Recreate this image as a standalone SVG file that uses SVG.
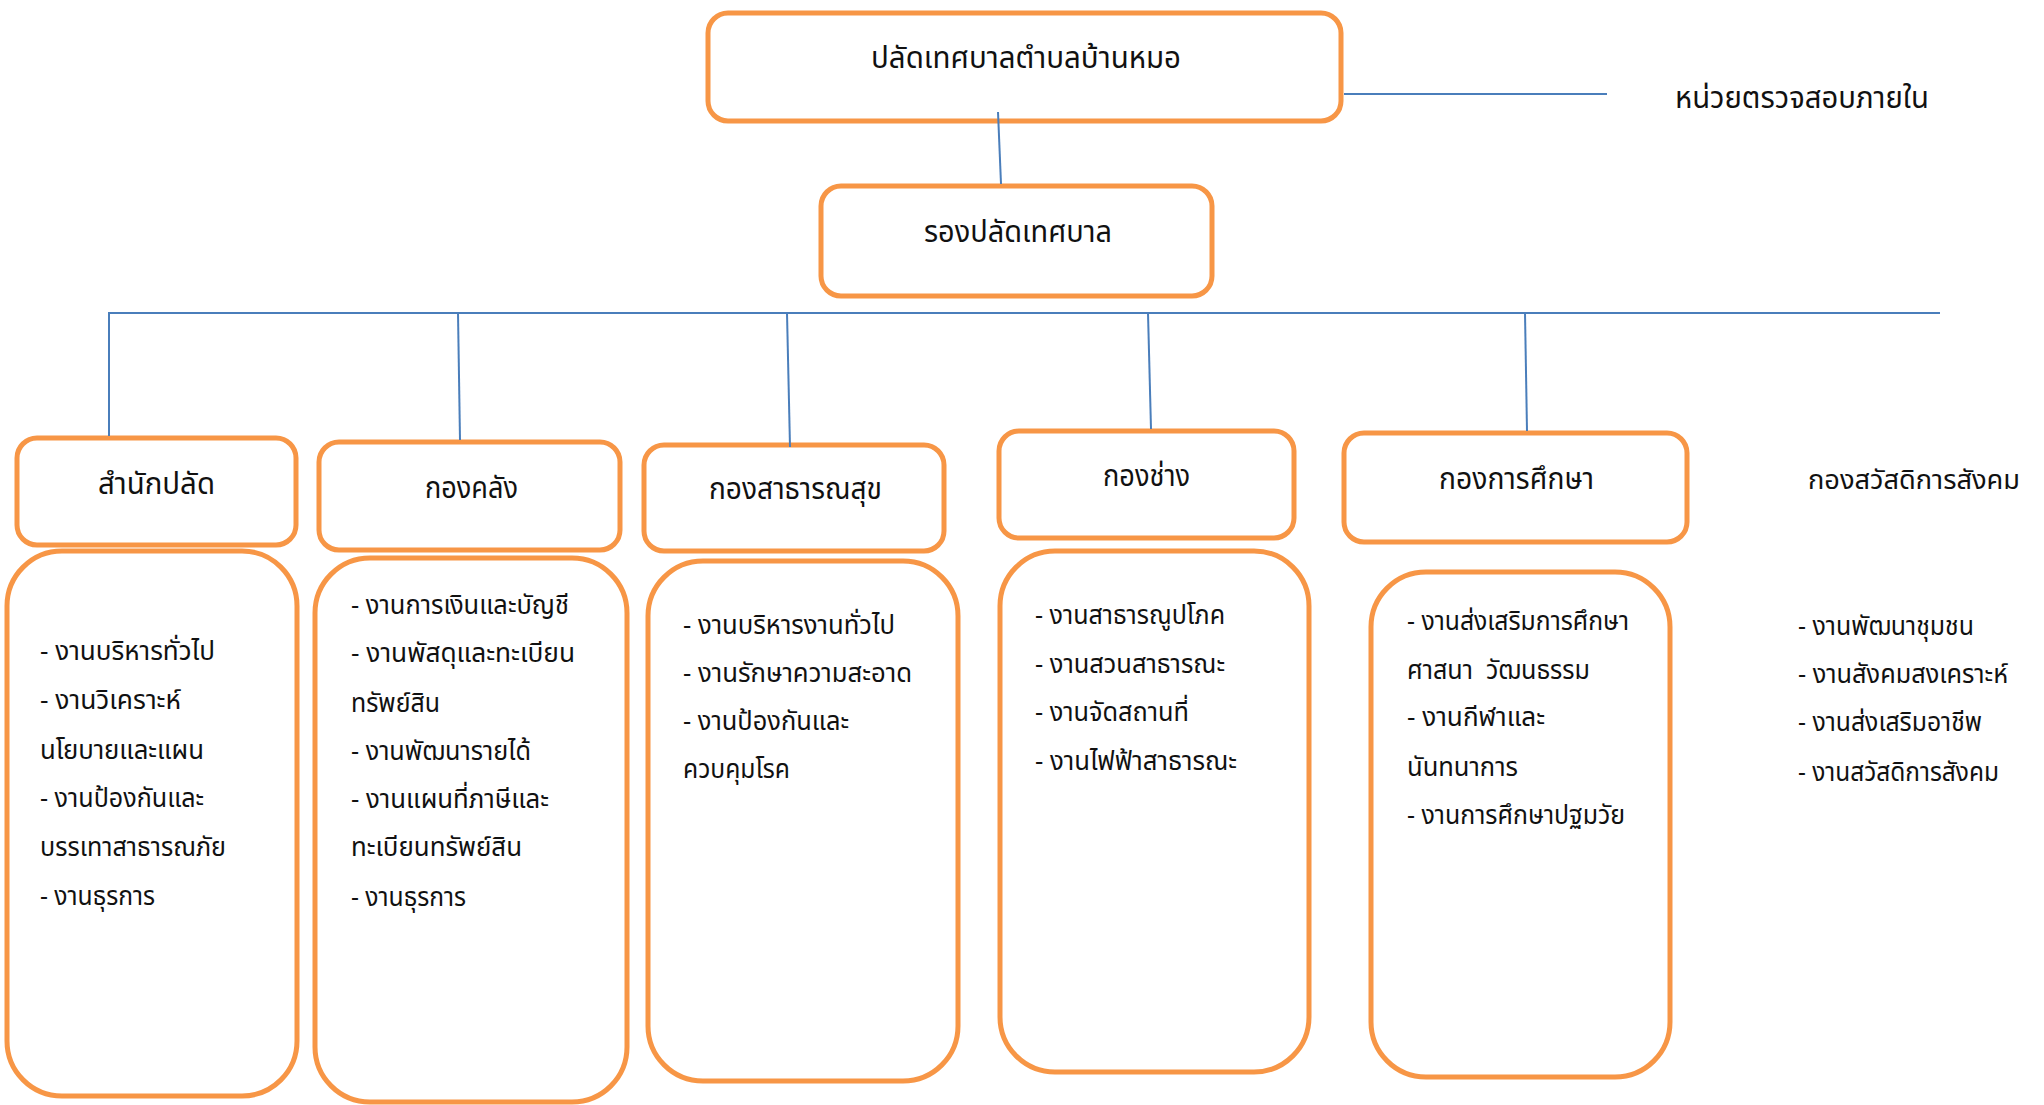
<svg xmlns="http://www.w3.org/2000/svg" width="2044" height="1105" viewBox="0 0 2044 1105">
<style>
.box{fill:#fff;stroke:#F79646;stroke-width:5}
.ln{stroke:#4A7EBB;stroke-width:2;fill:none}
text{font-family:"Noto Sans Thai","Noto Sans","Lato",sans-serif;fill:#111}
.h{font-size:31px}
.t{font-size:26px}
</style>
<rect width="2044" height="1105" fill="#fff"/>
<g id="n-top"><rect class="box" x="708" y="13" width="633" height="108" rx="20"/><text class="h" x="871" y="68" textLength="310" lengthAdjust="spacingAndGlyphs">ปลัดเทศบาลตำบลบ้านหมอ</text></g>
<g id="n-deputy"><rect class="box" x="821" y="186" width="391" height="110" rx="20"/><text class="h" x="924" y="242" textLength="188" lengthAdjust="spacingAndGlyphs">รองปลัดเทศบาล</text></g>
<g id="n-audit"><text class="h" x="1675" y="108" textLength="254" lengthAdjust="spacingAndGlyphs">หน่วยตรวจสอบภายใน</text></g>

<g id="n-d1"><rect class="box" x="17" y="438" width="279" height="107" rx="20"/><text class="h" x="98" y="494" textLength="117" lengthAdjust="spacingAndGlyphs">สำนักปลัด</text></g>
<g id="n-d2"><rect class="box" x="319" y="442" width="301" height="108" rx="20"/><text class="h" x="425" y="498" textLength="93" lengthAdjust="spacingAndGlyphs">กองคลัง</text></g>
<g id="n-d3"><rect class="box" x="644" y="445" width="300" height="106" rx="20"/><text class="h" x="709" y="499" textLength="173" lengthAdjust="spacingAndGlyphs">กองสาธารณสุข</text></g>
<g id="n-d4"><rect class="box" x="999" y="431" width="295" height="107" rx="20"/><text class="h" x="1103" y="486" textLength="87" lengthAdjust="spacingAndGlyphs">กองช่าง</text></g>
<g id="n-d5"><rect class="box" x="1344" y="433" width="343" height="109" rx="20"/><text class="h" x="1439" y="489" textLength="155" lengthAdjust="spacingAndGlyphs">กองการศึกษา</text></g>
<g id="n-d6"><text x="1808" y="489" font-size="27" textLength="212" lengthAdjust="spacingAndGlyphs">กองสวัสดิการสังคม</text></g>

<g id="n-l1"><rect class="box" x="7" y="551" width="290" height="545" rx="55"/>
<text class="t" x="40" y="660" textLength="175" lengthAdjust="spacingAndGlyphs">- งานบริหารทั่วไป</text>
<text class="t" x="40" y="709" textLength="141" lengthAdjust="spacingAndGlyphs">- งานวิเคราะห์</text>
<text class="t" x="40" y="759" textLength="164" lengthAdjust="spacingAndGlyphs">นโยบายและแผน</text>
<text class="t" x="40" y="807" textLength="164" lengthAdjust="spacingAndGlyphs">- งานป้องกันและ</text>
<text class="t" x="40" y="856" textLength="186" lengthAdjust="spacingAndGlyphs">บรรเทาสาธารณภัย</text>
<text class="t" x="40" y="905" textLength="115" lengthAdjust="spacingAndGlyphs">- งานธุรการ</text>
</g>
<g id="n-l2"><rect class="box" x="315" y="558" width="312" height="544" rx="55"/>
<text class="t" x="351" y="614" textLength="218" lengthAdjust="spacingAndGlyphs">- งานการเงินและบัญชี</text>
<text class="t" x="351" y="662" textLength="224" lengthAdjust="spacingAndGlyphs">- งานพัสดุและทะเบียน</text>
<text class="t" x="351" y="712" textLength="89" lengthAdjust="spacingAndGlyphs">ทรัพย์สิน</text>
<text class="t" x="351" y="760" textLength="180" lengthAdjust="spacingAndGlyphs">- งานพัฒนารายได้</text>
<text class="t" x="351" y="808" textLength="198" lengthAdjust="spacingAndGlyphs">- งานแผนที่ภาษีและ</text>
<text class="t" x="351" y="856" textLength="171" lengthAdjust="spacingAndGlyphs">ทะเบียนทรัพย์สิน</text>
<text class="t" x="351" y="906" textLength="115" lengthAdjust="spacingAndGlyphs">- งานธุรการ</text>
</g>
<g id="n-l3"><rect class="box" x="648" y="561" width="310" height="520" rx="55"/>
<text class="t" x="683" y="634" textLength="212" lengthAdjust="spacingAndGlyphs">- งานบริหารงานทั่วไป</text>
<text class="t" x="683" y="682" textLength="229" lengthAdjust="spacingAndGlyphs">- งานรักษาความสะอาด</text>
<text class="t" x="683" y="730" textLength="166" lengthAdjust="spacingAndGlyphs">- งานป้องกันและ</text>
<text class="t" x="683" y="778" textLength="107" lengthAdjust="spacingAndGlyphs">ควบคุมโรค</text>
</g>
<g id="n-l4"><rect class="box" x="1000" y="551" width="309" height="521" rx="55"/>
<text class="t" x="1035" y="624" textLength="190" lengthAdjust="spacingAndGlyphs">- งานสาธารณูปโภค</text>
<text class="t" x="1035" y="673" textLength="190" lengthAdjust="spacingAndGlyphs">- งานสวนสาธารณะ</text>
<text class="t" x="1035" y="721" textLength="154" lengthAdjust="spacingAndGlyphs">- งานจัดสถานที่</text>
<text class="t" x="1035" y="770" textLength="202" lengthAdjust="spacingAndGlyphs">- งานไฟฟ้าสาธารณะ</text>
</g>
<g id="n-l5"><rect class="box" x="1371" y="572" width="299" height="505" rx="55"/>
<text class="t" x="1407" y="630" textLength="222" lengthAdjust="spacingAndGlyphs">- งานส่งเสริมการศึกษา</text>
<text class="t" x="1407" y="679" textLength="183" lengthAdjust="spacingAndGlyphs" xml:space="preserve">ศาสนา  วัฒนธรรม</text>
<text class="t" x="1407" y="726" textLength="138" lengthAdjust="spacingAndGlyphs">- งานกีฬาและ</text>
<text class="t" x="1407" y="776" textLength="111" lengthAdjust="spacingAndGlyphs">นันทนาการ</text>
<text class="t" x="1407" y="824" textLength="218" lengthAdjust="spacingAndGlyphs">- งานการศึกษาปฐมวัย</text>
</g>
<g id="n-l6">
<text class="t" x="1798" y="635" textLength="176" lengthAdjust="spacingAndGlyphs">- งานพัฒนาชุมชน</text>
<text class="t" x="1798" y="683" textLength="210" lengthAdjust="spacingAndGlyphs">- งานสังคมสงเคราะห์</text>
<text class="t" x="1798" y="731" textLength="184" lengthAdjust="spacingAndGlyphs">- งานส่งเสริมอาชีพ</text>
<text class="t" x="1798" y="781" textLength="201" lengthAdjust="spacingAndGlyphs">- งานสวัสดิการสังคม</text>
</g>
<g id="connectors">
<line class="ln" x1="998" y1="112" x2="1001" y2="184"/>
<line class="ln" x1="1344" y1="94" x2="1607" y2="94"/>
<line class="ln" x1="108" y1="313" x2="1940" y2="313"/>
<line class="ln" x1="109" y1="313" x2="109" y2="436"/>
<line class="ln" x1="458" y1="313" x2="460" y2="440"/>
<line class="ln" x1="787" y1="313" x2="790" y2="447"/>
<line class="ln" x1="1148" y1="313" x2="1151" y2="429"/>
<line class="ln" x1="1525" y1="313" x2="1527" y2="431"/>
</g>
</svg>
